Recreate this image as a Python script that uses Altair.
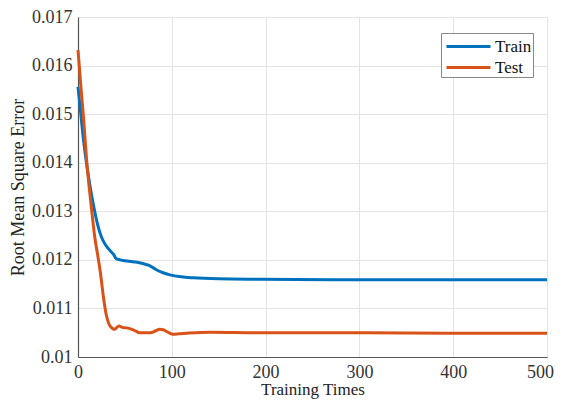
import altair as alt
import pandas as pd

train_x = [0, 3, 6, 9, 12, 15, 18, 21, 25, 28, 32, 36, 38, 40.5, 45, 55, 63, 70, 75, 80, 84, 90, 98, 110, 123, 150, 194, 300, 400, 500]
train_y = [0.01556, 0.0150, 0.01445, 0.0140, 0.01362, 0.01328, 0.01298, 0.01272, 0.01247, 0.01235, 0.01224, 0.01215,
           0.01211, 0.01203, 0.01200, 0.01197, 0.01195, 0.01192, 0.01189, 0.01184, 0.01179, 0.01174, 0.01169, 0.01165,
           0.01163, 0.01161, 0.0116, 0.01159, 0.01159, 0.01159]

test_x = [0, 3, 6, 9, 12, 15, 18, 21, 24, 27, 30, 33, 36, 39, 42, 44, 47, 52, 60, 66, 77, 83, 87, 91, 95, 101, 108, 116, 141, 194, 300, 400, 500]
test_y = [0.01632, 0.01558, 0.0149, 0.0141, 0.01348, 0.01295, 0.01245, 0.0121, 0.01172, 0.01125, 0.01088, 0.01068, 0.0106,
          0.01057, 0.01062, 0.01064, 0.01061, 0.0106, 0.01055, 0.0105, 0.0105, 0.01054, 0.01057, 0.01056, 0.01052,
          0.01047, 0.01048, 0.01049, 0.01051, 0.0105, 0.0105, 0.01049, 0.01049]

series = ["Train", "Test"]
colors = ["#0072BD", "#D95319"]
x_ticks = [0, 100, 200, 300, 400, 500]
y_ticks = [0.010, 0.011, 0.012, 0.013, 0.014, 0.015, 0.016, 0.017]

df = pd.concat([
    pd.DataFrame({"x": train_x, "y": train_y, "s": "Train", "o": 0}),
    pd.DataFrame({"x": test_x, "y": test_y, "s": "Test", "o": 1}),
])

font = "Liberation Serif"

chart = alt.Chart(df).mark_line(strokeWidth=3, interpolate="monotone").encode(
    x=alt.X("x:Q", scale=alt.Scale(domain=[0, 500], nice=False),
            axis=alt.Axis(values=x_ticks, title="Training Times", format="d", labelFlush=False,
                          labelOffset={"condition": {"test": "datum.value >= 500", "value": -7}, "value": 0},
                          labelFont=font, titleFont=font, labelFontSize=18, labelPadding=6, titlePadding=0,
                          titleFontSize=17)),
    y=alt.Y("y:Q", scale=alt.Scale(domain=[0.010, 0.017], nice=False, zero=False),
            axis=alt.Axis(values=y_ticks, title="Root Mean Square Error", labelFont=font, titleFont=font,
                          labelFontSize=18, titleFontSize=18, labelPadding=6, titlePadding=4,
                          labelExpr="datum.value < 0.0105 ? '0.01' : format(datum.value, '.3f')")),
    color=alt.Color("s:N", scale=alt.Scale(domain=series, range=colors),
                    legend=alt.Legend(title=None, orient="none", legendX=363, legendY=16,
                                      symbolType="M-2,0L2,0", symbolSize=484, symbolStrokeWidth=3,
                                      symbolOffset=14, labelOffset=14,
                                      labelExpr="datum.label + ' '",
                                      strokeColor="#888888", fillColor="white", padding=1,
                                      labelFont=font, labelFontSize=17, labelColor="#111111",
                                      rowPadding=0)),
    detail="s:N",
    order="o:Q",
).properties(
    width=469, height=340,
    autosize="none",
    padding={"left": 70, "top": 9, "right": 7, "bottom": 44},
).configure_view(stroke=None).configure_axis(
    labelFont=font, titleFont=font,
    labelColor="#333333", titleColor="#222222", titleFontWeight="normal",
    domainColor="#555555", domainWidth=1.2, tickColor="#555555", ticks=False,
    gridColor="#e3e3e3", gridWidth=1,
)

chart.save("out.html", embed_options={"renderer": "svg", "actions": False})
